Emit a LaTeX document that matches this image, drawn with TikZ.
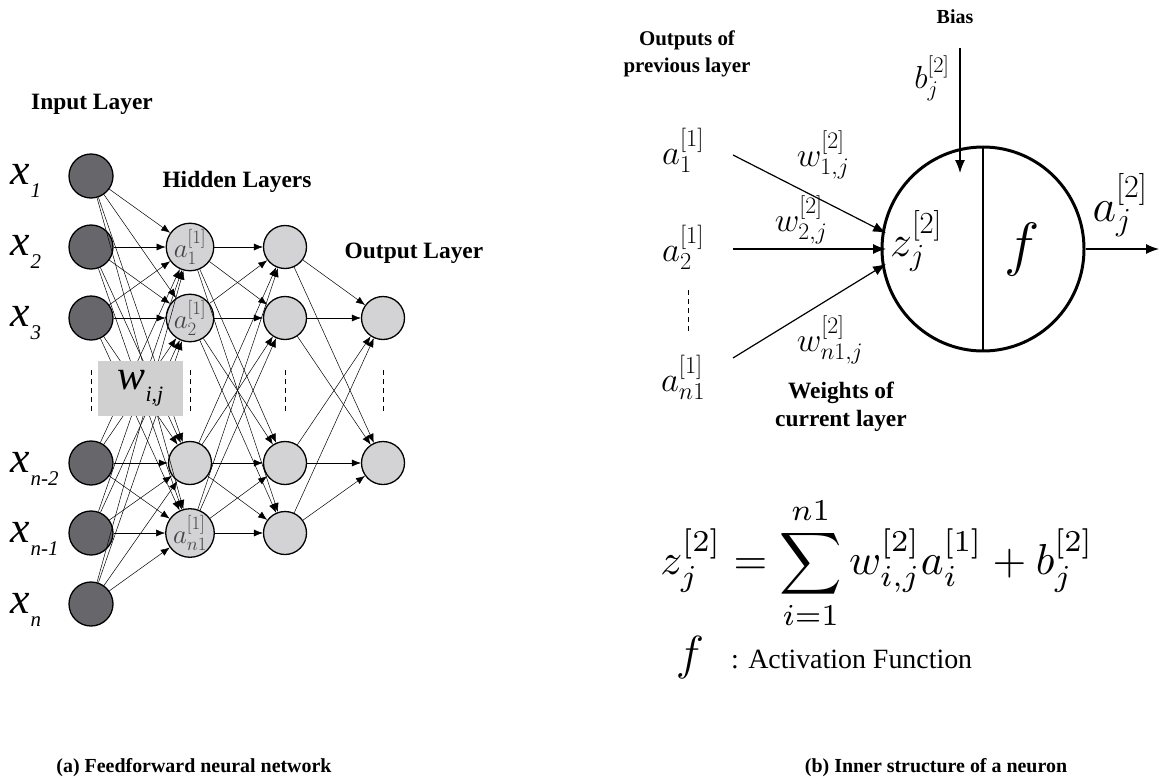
\RequirePackage{fix-cm}
\documentclass[tikz,border=0pt]{standalone}
\usepackage[no-math]{fontspec}
\setmainfont{Liberation Serif}
\usepackage{amsmath}
\usetikzlibrary{arrows.meta,shapes.geometric}
\definecolor{inpgray}{HTML}{67676B}
\definecolor{hidgray}{HTML}{D3D3D5}
\definecolor{boxgray}{HTML}{D0D0D0}
\definecolor{labgray}{HTML}{444444}
\newcommand\fs[1]{\fontsize{#1}{#1}\selectfont}
\newcommand\xlab[1]{{\fs{44}\itshape x}\kern1bp\raisebox{-13bp}{\fs{21}\itshape #1}}
\tikzset{
  inp/.style={circle, draw, line width=1.3pt, fill=inpgray, minimum size=44bp, inner sep=0pt},
  hid/.style={circle, draw, line width=1.3pt, fill=hidgray, minimum size=43bp, inner sep=0pt, text=labgray, font=\fs{27}},
  conn/.style={-{Latex[length=9pt,width=7pt]}, line width=0.5pt},
  narr/.style={-{Latex[length=13pt,width=10pt]}, line width=1.2pt},
  dots/.style={dashed, line width=0.9pt, dash pattern=on 5pt off 4pt},
  head/.style={font=\bfseries\fs{23.5}},
  captext/.style={font=\bfseries\fs{20}},
  mlab/.style={font=\fs{35}},
  wlab/.style={font=\fs{34}},
}
\begin{document}
\begin{tikzpicture}[x=1bp,y=-1bp]
\useasboundingbox[fill=white] (0,0) rectangle (1159,780);
% ---------- (a) network ----------
\node[head] (tin) at (92,104) {Input Layer};
\node[head] (thid) at (237,182) {Hidden Layers};
\node[head] (tout) at (414,253) {Output Layer};

\node[inp] (i1) at (91,176) {};
\node[inp] (i2) at (91,247) {};
\node[inp] (i3) at (91,318) {};
\node[inp] (i4) at (91,463) {};
\node[inp] (i5) at (91,533) {};
\node[inp] (i6) at (91,604) {};

\node[hid] (h1) at (190,247) {$a_1^{[1]}$};
\node[hid] (h2) at (190,318) {$a_2^{[1]}$};
\node[hid] (h3) at (190,463) {};
\node[hid] (h4) at (190,533) {$a_{n1}^{[1]}$};

\node[hid] (g1) at (285,247) {};
\node[hid] (g2) at (285,318) {};
\node[hid] (g3) at (285,463) {};
\node[hid] (g4) at (285,533) {};

\node[hid] (o1) at (383,318) {};
\node[hid] (o2) at (383,463) {};

\foreach \a in {i1,i2,i3,i4,i5,i6}
  \foreach \b in {h1,h2,h3,h4}
    \draw[conn] (\a) -- (\b);
\foreach \a in {h1,h2,h3,h4}
  \foreach \b in {g1,g2,g3,g4}
    \draw[conn] (\a) -- (\b);
\foreach \a in {g1,g2,g3,g4}
  \foreach \b in {o1,o2}
    \draw[conn] (\a) -- (\b);

\node[fill=boxgray, minimum width=85bp, minimum height=55bp, inner sep=0pt] (wbox) at (140.5,388)
  {{\fs{42}\itshape w}\raisebox{-12bp}{\fs{22}\itshape i,j}};

\foreach \x/\n in {91/d1,190/d2,285/d3,383/d4}{
  \coordinate (\n t) at (\x,370);
  \coordinate (\n b) at (\x,413);
  \draw[dots] (\n t) -- (\n b);
}

\node[anchor=base west, inner sep=0pt] (lx1) at (10,184) {\xlab{1}};
\node[anchor=base west, inner sep=0pt] (lx2) at (10,255) {\xlab{2}};
\node[anchor=base west, inner sep=0pt] (lx3) at (10,326) {\xlab{3}};
\node[anchor=base west, inner sep=0pt] (lx4) at (10,472) {\xlab{n-2}};
\node[anchor=base west, inner sep=0pt] (lx5) at (10,542) {\xlab{n-1}};
\node[anchor=base west, inner sep=0pt] (lx6) at (10,613) {\xlab{n}};

\node[captext] (capa) at (194,768) {(a) Feedforward neural network};

% ---------- (b) neuron ----------
\node[head, font=\bfseries\fs{20}] (tbias) at (955,17) {Bias};
\node[head, font=\bfseries\fs{21}, align=center] (tprev) at (687,54) {Outputs of\\[6bp]previous layer};
\node[head, align=center] (tw) at (841,407) {Weights of\\[5bp]current layer};

\node[ellipse, draw, line width=3pt, minimum width=202bp, minimum height=204bp, inner sep=0pt] (neuron) at (983,249) {};
\draw[line width=1.2pt] (neuron.north) -- (neuron.south);
\node[font=\fs{44}] (z) at (916,241) {$z_j^{[2]}$};
\node[font=\fs{60}] (f) at (1022,250) {$f$};

\node[mlab] (a1) at (683,150) {$a_1^{[1]}$};
\node[mlab] (a2) at (683,247) {$a_2^{[1]}$};
\node[mlab] (an) at (683,377) {$a_{n1}^{[1]}$};
\coordinate (dt) at (688,290);
\coordinate (db) at (688,331);
\draw[dots, line width=1pt] (dt) -- (db);

\coordinate (s1) at (733,155); \coordinate (t1) at (886,233);
\coordinate (s2) at (733,249); \coordinate (t2) at (886,249);
\coordinate (s3) at (733,358); \coordinate (t3) at (886,264);
\draw[narr] (s1) -- (t1);
\draw[narr] (s2) -- (t2);
\draw[narr] (s3) -- (t3);

\node[wlab] (w1) at (823,155) {$w_{1,j}^{[2]}$};
\node[wlab] (w2) at (801,220) {$w_{2,j}^{[2]}$};
\node[wlab] (wn) at (830,340) {$w_{n1,j}^{[2]}$};

\coordinate (bs) at (960,48); \coordinate (bt) at (960,173);
\draw[narr] (bs) -- (bt);
\node[font=\fs{32}] (bl) at (932,78) {$b_j^{[2]}$};

\coordinate (oe) at (1159,249);
\draw[narr] (neuron.east) -- (oe);
\node[font=\fs{46}] (aj) at (1120,205) {$a_j^{[2]}$};

\node[font=\fs{10}] (eq) at (877,563) {\scalebox{4.35}{$\displaystyle z_j^{[2]} = \sum_{i=1}^{n1} w_{i,j}^{[2]} a_i^{[1]} + b_j^{[2]}$}};
\node[font=\fs{48}] (fl) at (690,658) {$f$};
\node[anchor=base west, font=\fs{28}, inner sep=0pt] (act) at (731,668) {: Activation Function};

\node[captext] (capb) at (936,768) {(b) Inner structure of a neuron};
\end{tikzpicture}
\end{document}
